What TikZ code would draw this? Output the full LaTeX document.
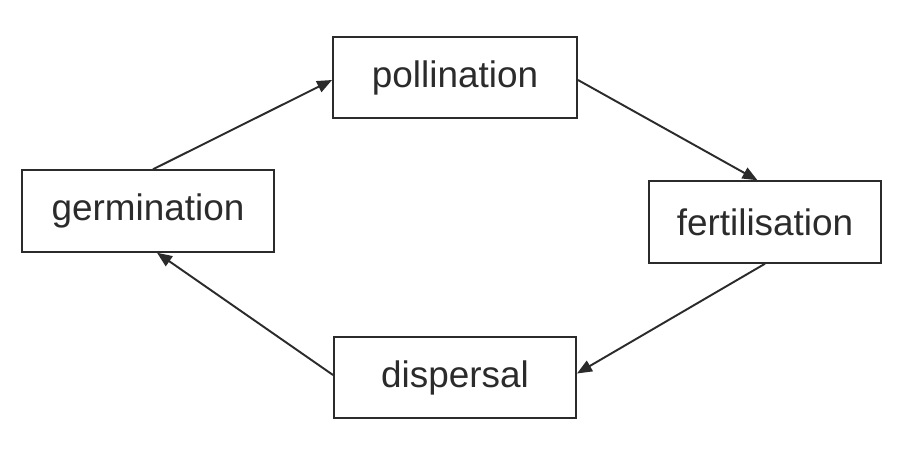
\documentclass[tikz,border=0pt]{standalone}
\usepackage{fontspec}
\setmainfont{Liberation Sans}
\usepackage{xcolor}
\definecolor{InkGrey}{HTML}{2B2B2B}
\usepackage{tikz}
\usetikzlibrary{arrows.meta, positioning}
\tikzset{
  % Box styles
  stagebox/.style={rectangle, draw=InkGrey, line width=1.1pt, text=InkGrey, minimum height=1.63cm, font=\fontsize{21}{25}\selectfont, align=center},
  % Arrow styles
  cyclearrow/.style={-{Triangle[length=0.3cm, width=0.24cm]}, line width=1.1pt, InkGrey}
}

\begin{document}
\begin{tikzpicture}
  \useasboundingbox (0,0) rectangle (18.16,9);
  % Life cycle stages
  \node[stagebox, minimum width=4.88cm] (poll) at (9.10,7.45) {pollination};
  \node[stagebox, minimum width=5.04cm] (germ) at (2.96,4.78) {germination};
  \node[stagebox, minimum width=4.64cm] (fert) at (15.30,4.56) {fertilisation};
  \node[stagebox, minimum width=4.84cm] (disp) at (9.10,1.45) {dispersal};
  % Cycle arrows
  \draw[cyclearrow] ([xshift=0.1cm]germ.north) -- ([yshift=-0.05cm]poll.west);
  \draw[cyclearrow] ([yshift=-0.05cm]poll.east) -- ([xshift=-0.15cm]fert.north);
  \draw[cyclearrow] (fert.south) -- ([yshift=0.08cm]disp.east);
  \draw[cyclearrow] ([yshift=0.05cm]disp.west) -- ([xshift=0.18cm]germ.south);
\end{tikzpicture}
\end{document}
